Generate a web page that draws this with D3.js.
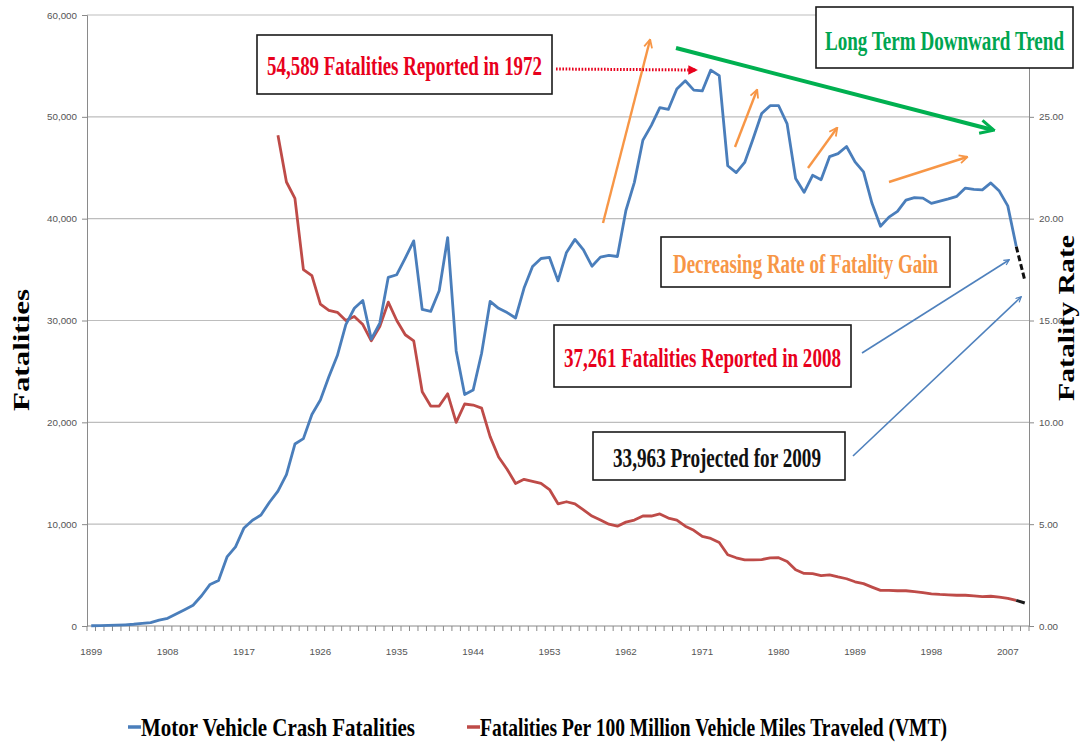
<!DOCTYPE html>
<html><head><meta charset="utf-8">
<script src="https://cdn.jsdelivr.net/npm/d3@7"></script>
<style>body{margin:0;background:#fff}svg{display:block}</style>
</head><body><svg id="c" width="1081" height="744"></svg>
<script>
// ---------- DATA ----------
const years = [1899,1900,1901,1902,1903,1904,1905,1906,1907,1908,1909,1910,1911,1912,1913,1914,1915,1916,1917,1918,1919,
1920,1921,1922,1923,1924,1925,1926,1927,1928,1929,1930,1931,1932,1933,1934,1935,1936,1937,1938,1939,
1940,1941,1942,1943,1944,1945,1946,1947,1948,1949,1950,1951,1952,1953,1954,1955,1956,1957,1958,1959,
1960,1961,1962,1963,1964,1965,1966,1967,1968,1969,1970,1971,1972,1973,1974,1975,1976,1977,1978,1979,
1980,1981,1982,1983,1984,1985,1986,1987,1988,1989,1990,1991,1992,1993,1994,1995,1996,1997,1998,1999,
2000,2001,2002,2003,2004,2005,2006,2007,2008,2009];
// Motor vehicle crash fatalities, 1899-2008
const fatalities = [26,36,54,79,117,172,252,338,581,751,1174,1599,2043,2968,4079,4468,6779,7766,9630,10390,10896,
12155,13253,14859,17870,18400,20771,22194,24470,26557,29592,31204,31963,28167,29746,34240,34494,36126,37819,31083,30895,
32914,38142,27007,22727,23165,26785,31874,31193,30775,30246,33186,35309,36088,36190,33890,36688,37965,36932,35331,36223,
36399,36285,40804,43564,47700,49163,50894,50724,52725,53543,52627,52542,54589,54052,45196,44525,45523,47878,50331,51093,
51091,49301,43945,42589,44257,43825,46087,46390,47087,45582,44599,41508,39250,40150,40716,41817,42065,42013,41501,41717,
41945,42196,43005,42884,42836,43510,42708,41259,37261];
const projYears = [2008, 2009];
const projFatalities = [37261, 33963];
// Fatalities per 100 million VMT, 1921-2008
const rateStartYear = 1921;
const rates = [24.1,21.8,21.0,17.5,17.2,15.8,15.5,15.4,15.0,15.2,14.8,14.0,14.7,15.9,15.0,14.3,14.0,11.5,10.8,
10.8,11.4,10.0,10.9,10.85,10.7,9.3,8.3,7.7,7.0,7.2,7.1,7.0,6.7,6.0,6.1,6.0,5.7,5.4,5.2,
5.0,4.9,5.1,5.2,5.4,5.4,5.5,5.3,5.2,4.9,4.7,4.4,4.3,4.1,3.5,3.35,3.25,3.25,3.26,3.34,
3.35,3.17,2.76,2.58,2.57,2.47,2.51,2.41,2.32,2.17,2.08,1.91,1.75,1.75,1.73,1.73,1.69,1.64,1.58,1.55,
1.53,1.51,1.51,1.48,1.44,1.46,1.42,1.36,1.26];
const projRates = [1.26, 1.13];
const xTickLabels = ["1899","1908","1917","1926","1935","1944","1953","1962","1971","1980","1989","1998","2007"];
const leftTicks = [0,10000,20000,30000,40000,50000,60000];
const rightTicks = [0,5,10,15,20,25];
const seriesNames = ["Motor Vehicle Crash Fatalities","Fatalities Per 100 Million Vehicle Miles Traveled (VMT)"];

// ---------- CHART ----------
const svg = d3.select("#c");
const L = 87, R = 1029, T = 15, B = 626;
const x = d3.scaleBand().domain(years).range([L, R]).paddingInner(0).paddingOuter(0);
const bw = x.bandwidth();
const cx = y => x(y) + bw / 2;
const yL = d3.scaleLinear().domain([0, 60000]).range([B, T]);
const yR = d3.scaleLinear().domain([0, 30]).range([B, T]);

const tickFont = "'Liberation Sans', Arial, sans-serif";
const serif = "'Liberation Serif', 'Times New Roman', serif";

// gridlines
svg.append("g").selectAll("line").data(leftTicks.filter(d => d > 0)).join("line")
  .attr("x1", L).attr("x2", R).attr("y1", d => yL(d)).attr("y2", d => yL(d))
  .attr("stroke", "#bdbdbd").attr("stroke-width", 1.2);

// left axis
const gl = svg.append("g").attr("transform", `translate(${L},0)`)
  .call(d3.axisLeft(yL).tickValues(leftTicks).tickFormat(d3.format(",")).tickSize(5).tickPadding(5));
gl.select(".domain").attr("stroke", "#8a8a8a");
gl.selectAll(".tick line").attr("stroke", "#8a8a8a");
gl.selectAll("text").attr("font-family", tickFont).attr("font-size", 9.8).attr("fill", "#555");

// right axis
const gr = svg.append("g").attr("transform", `translate(${R},0)`)
  .call(d3.axisRight(yR).tickValues(rightTicks).tickFormat(d3.format(".2f")).tickSize(5).tickPadding(5));
gr.select(".domain").attr("stroke", "#8a8a8a");
gr.selectAll(".tick line").attr("stroke", "#8a8a8a");
gr.selectAll("text").attr("font-family", tickFont).attr("font-size", 9.8).attr("fill", "#555");

// bottom axis (category boundaries)
const gx = svg.append("g");
gx.append("line").attr("x1", L).attr("x2", R).attr("y1", B).attr("y2", B).attr("stroke", "#8a8a8a");
gx.selectAll("line.tk").data(years.concat([null])).join("line").attr("class", "tk")
  .attr("x1", (d, i) => i < years.length ? x(d) : R).attr("x2", (d, i) => i < years.length ? x(d) : R)
  .attr("y1", B).attr("y2", B + 5).attr("stroke", "#8a8a8a");
gx.selectAll("text").data(xTickLabels).join("text")
  .attr("x", d => cx(+d)).attr("y", B + 29).attr("text-anchor", "middle")
  .attr("font-family", tickFont).attr("font-size", 9.8).attr("fill", "#555").text(d => d);

// series lines
const blueData = years.slice(0, fatalities.length).map((y, i) => [y, fatalities[i]]);
const redData = rates.map((v, i) => [rateStartYear + i, v]);
svg.append("path").datum(redData)
  .attr("d", d3.line().x(d => cx(d[0])).y(d => yR(d[1])))
  .attr("fill", "none").attr("stroke", "#be4b48").attr("stroke-width", 2.8).attr("stroke-linejoin", "round");
svg.append("path").datum(projYears.map((y, i) => [y, projRates[i]]))
  .attr("d", d3.line().x(d => cx(d[0])).y(d => yR(d[1])))
  .attr("fill", "none").attr("stroke", "#1a1a1a").attr("stroke-width", 3);
svg.append("path").datum(blueData)
  .attr("d", d3.line().x(d => cx(d[0])).y(d => yL(d[1])))
  .attr("fill", "none").attr("stroke", "#4a7ebb").attr("stroke-width", 2.8).attr("stroke-linejoin", "round");
svg.append("path").datum(projYears.map((y, i) => [y, projFatalities[i]]))
  .attr("d", d3.line().x(d => cx(d[0])).y(d => yL(d[1])))
  .attr("fill", "none").attr("stroke", "#111").attr("stroke-width", 3).attr("stroke-dasharray", "6,3");

// axis titles
svg.append("text").attr("transform", "translate(29,350) rotate(-90)").attr("text-anchor", "middle")
  .attr("font-family", serif).attr("font-weight", "bold").attr("font-size", 24)
  .attr("textLength", 122).attr("lengthAdjust", "spacingAndGlyphs").text("Fatalities");
svg.append("text").attr("transform", "translate(1074,318) rotate(-90)").attr("text-anchor", "middle")
  .attr("font-family", serif).attr("font-weight", "bold").attr("font-size", 23)
  .attr("textLength", 166).attr("lengthAdjust", "spacingAndGlyphs").text("Fatality Rate");

// ---------- ANNOTATIONS ----------
const defs = svg.append("defs");
function openMarker(id, color) {
  defs.append("marker").attr("id", id).attr("viewBox", "0 0 10 10").attr("refX", 8.5).attr("refY", 5)
    .attr("markerWidth", 4.2).attr("markerHeight", 4.2).attr("orient", "auto")
    .append("path").attr("d", "M1,1 L9,5 L1,9").attr("fill", "none").attr("stroke", color)
    .attr("stroke-width", 1.8).attr("stroke-linejoin", "miter");
}
openMarker("mOrange", "#f79646");
openMarker("mGreen", "#00b050");
openMarker("mBlue", "#4f81bd");
defs.append("marker").attr("id", "mRed").attr("viewBox", "0 0 10 10").attr("refX", 8).attr("refY", 5)
  .attr("markerWidth", 3.2).attr("markerHeight", 3.2).attr("orient", "auto")
  .append("path").attr("d", "M0,0 L10,5 L0,10 Z").attr("fill", "#e8001c");

function arrow(x1, y1, x2, y2, color, w, marker, dash) {
  const l = svg.append("line").attr("x1", x1).attr("y1", y1).attr("x2", x2).attr("y2", y2)
    .attr("stroke", color).attr("stroke-width", w).attr("marker-end", `url(#${marker})`);
  if (dash) l.attr("stroke-dasharray", dash);
}
// orange "gain" arrows
arrow(603, 223, 650, 40, "#f79646", 2.4, "mOrange");
arrow(735, 147, 757, 90, "#f79646", 2.4, "mOrange");
arrow(808, 168, 837, 128, "#f79646", 2.4, "mOrange");
arrow(889, 182, 967, 157, "#f79646", 2.4, "mOrange");
// green trend arrow
arrow(676, 48, 993, 130, "#00b050", 4, "mGreen");
// red dotted pointer
arrow(556, 69, 696, 70, "#e8001c", 3, "mRed", "1.6,1.6");
// blue pointers
arrow(862, 353, 1009, 260, "#4f81bd", 1.6, "mBlue");
arrow(853, 456, 1021, 297, "#4f81bd", 1.6, "mBlue");

function box(x0, y0, x1, y1, label, color, tx, tw, base, fs) {
  svg.append("rect").attr("x", x0).attr("y", y0).attr("width", x1 - x0).attr("height", y1 - y0)
    .attr("fill", "#fff").attr("stroke", "#1a1a1a").attr("stroke-width", 1.6);
  svg.append("text").attr("x", tx).attr("y", base).attr("font-family", serif).attr("font-weight", "bold")
    .attr("font-size", fs).attr("fill", color).attr("textLength", tw).attr("lengthAdjust", "spacingAndGlyphs")
    .text(label);
}
box(257, 35, 552, 94, "54,589 Fatalities Reported in 1972", "#e8001c", 267, 275, 75, 28);
box(816, 7, 1073, 68, "Long Term Downward Trend", "#00a550", 825, 239, 50, 28);
box(661, 237, 950, 287, "Decreasing Rate of Fatality Gain", "#f79646", 673, 265, 273, 28);
box(554, 325, 851, 387, "37,261 Fatalities Reported in 2008", "#e8001c", 564, 277, 367, 28);
box(593, 432, 845, 480, "33,963 Projected for 2009", "#111", 613, 208, 467, 28);

// ---------- LEGEND ----------
const legendColors = ["#4a7ebb", "#be4b48"];
const legendX = [128, 467];
const legendW = [274, 467];
const lg = svg.append("g");
seriesNames.forEach((name, i) => {
  lg.append("line").attr("x1", legendX[i]).attr("x2", legendX[i] + 13).attr("y1", 727).attr("y2", 727)
    .attr("stroke", legendColors[i]).attr("stroke-width", 3.5);
  lg.append("text").attr("x", legendX[i] + 13).attr("y", 736).attr("font-family", serif).attr("font-weight", "bold")
    .attr("font-size", 25).attr("textLength", legendW[i]).attr("lengthAdjust", "spacingAndGlyphs").text(name);
});
</script></body></html>
